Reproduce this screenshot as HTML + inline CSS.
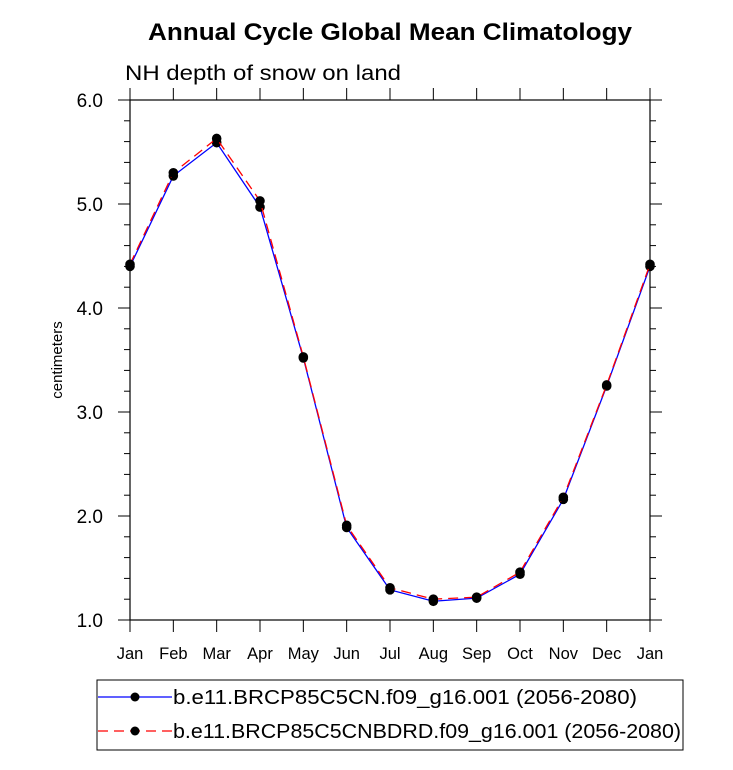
<!DOCTYPE html>
<html><head><meta charset="utf-8"><style>
body{margin:0;background:#fff;}
svg{display:block;font-family:"Liberation Sans",sans-serif;}
</style></head><body>
<svg id="chart" width="733" height="770" viewBox="0 0 733 770" xmlns="http://www.w3.org/2000/svg">
<text x="148" y="40" font-size="24" font-weight="bold" textLength="484" lengthAdjust="spacingAndGlyphs">Annual Cycle Global Mean Climatology</text>
<text x="125" y="80" font-size="21" textLength="276" lengthAdjust="spacingAndGlyphs">NH depth of snow on land</text>
<text transform="translate(62,360) rotate(-90)" text-anchor="middle" font-size="15">centimeters</text>
<g id="axes"></g>
<g id="series"></g>
<rect x="97" y="680" width="586" height="70" fill="none" stroke="#000" stroke-width="1"/>
<g>
<line x1="98" y1="697" x2="172" y2="697" stroke="#00f" stroke-width="1.3"/>
<circle cx="135" cy="697" r="4.5" fill="#000"/>
<text x="173" y="704" font-size="20" textLength="464" lengthAdjust="spacingAndGlyphs">b.e11.BRCP85C5CN.f09_g16.001 (2056-2080)</text>
</g>
<g>
<line x1="98" y1="731" x2="172" y2="731" stroke="#f00" stroke-width="1.3" stroke-dasharray="10,6"/>
<circle cx="135" cy="731" r="4.5" fill="#000"/>
<text x="173" y="738" font-size="20" textLength="508" lengthAdjust="spacingAndGlyphs">b.e11.BRCP85C5CNBDRD.f09_g16.001 (2056-2080)</text>
</g>
</svg>
<script>
const months=["Jan","Feb","Mar","Apr","May","Jun","Jul","Aug","Sep","Oct","Nov","Dec","Jan"];
const blueValues=[4.40,5.27,5.59,4.97,3.52,1.89,1.29,1.18,1.21,1.44,2.16,3.25,4.40];
const redValues=[4.42,5.30,5.63,5.03,3.53,1.91,1.31,1.20,1.22,1.46,2.18,3.26,4.42];
const yTicks=["1.0","2.0","3.0","4.0","5.0","6.0"];
const L=130,R=650,T=100,B=620,ymin=1,ymax=6;
const NS="http://www.w3.org/2000/svg";
function xs(i){return L+(R-L)*i/(months.length-1);}
function ys(v){return B-(v-ymin)/(ymax-ymin)*(B-T);}
function mk(tag,attrs,parent){const e=document.createElementNS(NS,tag);for(const k in attrs)e.setAttribute(k,attrs[k]);parent.appendChild(e);return e;}
const ax=document.getElementById('axes');
const frame=mk('rect',{x:L,y:T,width:R-L,height:B-T,fill:'none',stroke:'#000','stroke-width':1.2},ax);


months.forEach((m,i)=>{
  const x=xs(i);
  mk('line',{x1:x,y1:B,x2:x,y2:B+12,stroke:'#000'},ax);
  mk('line',{x1:x,y1:T,x2:x,y2:T-12,stroke:'#000'},ax);
  const t=mk('text',{x:x,y:B+39,'text-anchor':'middle','font-size':16.5},ax);
  t.textContent=m;
  
  
});
yTicks.forEach(s=>{
  const v=parseFloat(s),y=ys(v);
  mk('line',{x1:L-12,y1:y,x2:L,y2:y,stroke:'#000'},ax);
  mk('line',{x1:R,y1:y,x2:R+12,y2:y,stroke:'#000'},ax);
  const t=mk('text',{x:L-27,y:y+7,'text-anchor':'end','font-size':19},ax);
  t.textContent=s;
  
  
  if(v<ymax){for(let k=1;k<5;k++){const yy=ys(v+k*0.2);
    mk('line',{x1:L-6,y1:yy,x2:L,y2:yy,stroke:'#000'},ax);
    mk('line',{x1:R,y1:yy,x2:R+6,y2:yy,stroke:'#000'},ax);}}
});
const sg=document.getElementById('series');
function draw(vals,color,dash,name){
  const p=mk('polyline',{points:vals.map((v,i)=>xs(i)+','+ys(v)).join(' '),fill:'none',stroke:color,'stroke-width':1.3},sg);
  if(dash)p.setAttribute('stroke-dasharray',dash);
  
  
  vals.forEach((v,i)=>{const c=mk('circle',{cx:xs(i),cy:ys(v),r:4.8,fill:'#000'},sg);
    
    });
}
draw(blueValues,'#00f',null,'blue-series');
draw(redValues,'#f00','10,6','red-series');
</script>
</body></html>
